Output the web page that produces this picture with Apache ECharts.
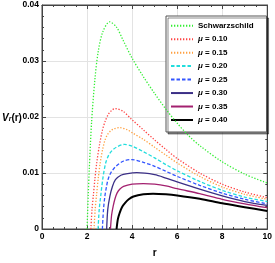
<!DOCTYPE html>
<html><head><meta charset="utf-8">
<script src="https://cdn.jsdelivr.net/npm/echarts@6/dist/echarts.min.js"></script>
<style>html,body{margin:0;padding:0;background:#fff}#c{width:275px;height:263px}</style>
</head><body><div id="c"></div>
<script>
const seriesNames = ['Schwarzschild','μ = 0.10','μ = 0.15','μ = 0.20','μ = 0.25','μ = 0.30','μ = 0.35','μ = 0.40'];
const xTicks = [0,2,4,6,8,10];
const yTicks = [0,0.01,0.02,0.03,0.04];

const rS  = [2.0,2.05,2.1,2.2,2.35,2.5,2.7,3.0,3.3,3.6,4.0,4.5,5.0,5.5,6.0,6.5,7.0,8.0,9.0,10.0];
const vS  = [0,0.0058,0.0108,0.0190,0.0268,0.0318,0.0352,0.0370,0.0361,0.0337,0.0305,0.0272,0.0242,0.0214,0.0189,0.0167,0.0149,0.0120,0.0098,0.0082];
const r10 = [2.17,2.22,2.28,2.35,2.43,2.55,2.68,2.8,2.95,3.1,3.25,3.6,4.0,4.5,5.0,5.5,6.0,7.0,8.0,9.0,10.0];
const v10 = [0,0.0035,0.0060,0.0090,0.0118,0.0150,0.0176,0.0192,0.0205,0.0212,0.0215,0.0210,0.0195,0.0177,0.0159,0.0142,0.0126,0.0100,0.0080,0.0066,0.0056];
const r15 = [2.31,2.36,2.42,2.5,2.58,2.68,2.79,2.9,3.04,3.2,3.45,3.8,4.0,4.5,5.0,5.5,6.0,7.0,8.0,9.0,10.0];
const v15 = [0,0.0035,0.0060,0.0092,0.0117,0.0140,0.0158,0.0168,0.0175,0.0179,0.0181,0.0177,0.0172,0.0160,0.0146,0.0132,0.0118,0.0094,0.0075,0.0062,0.0053];
const r20 = [2.49,2.54,2.61,2.7,2.82,2.95,3.11,3.3,3.65,4.0,4.5,5.0,5.5,6.0,7.0,8.0,9.0,10.0];
const v20 = [0,0.0035,0.0060,0.0090,0.0117,0.0131,0.0140,0.0146,0.0151,0.0148,0.0138,0.0127,0.0115,0.0104,0.0085,0.0069,0.0057,0.0049];
const r25 = [2.68,2.73,2.79,2.86,2.93,3.05,3.26,3.6,3.99,4.5,5.0,5.5,6.0,7.0,8.0,9.0,10.0];
const v25 = [0,0.0035,0.0058,0.0075,0.0088,0.0100,0.0111,0.0121,0.0124,0.0119,0.0112,0.0103,0.0094,0.0078,0.0064,0.0053,0.0045];
const r30 = [2.87,2.92,3.01,3.12,3.26,3.5,3.8,4.21,5.0,5.5,6.0,7.0,8.0,9.0,10.0];
const v30 = [0,0.0035,0.0058,0.0075,0.0088,0.0096,0.0099,0.01005,0.0097,0.0091,0.0084,0.0071,0.0059,0.0049,0.0042];
const r35 = [3.04,3.09,3.16,3.24,3.33,3.45,3.62,4.0,4.5,5.0,5.5,6.0,7.0,8.0,9.0,10.0];
const v35 = [0,0.0025,0.0041,0.0054,0.0064,0.0071,0.0076,0.0080,0.0081,0.0080,0.0077,0.0072,0.0063,0.0053,0.0045,0.0038];
const r40 = [3.31,3.37,3.45,3.55,3.7,3.85,4.06,4.5,4.93,5.5,6.0,7.0,8.0,9.0,10.0];
const v40 = [0,0.0018,0.0029,0.0039,0.0047,0.0053,0.0058,0.0062,0.0063,0.0062,0.0060,0.0054,0.0046,0.0039,0.0032];

const rs = [rS,r10,r15,r20,r25,r30,r35,r40];
const vs = [vS,v10,v15,v20,v25,v30,v35,v40];
const colors = ['#33ee33','#ff4444','#ffa040','#22dddd','#3355ff','#3b2f86','#a3206f','#000000'];
const types = [[1.3,1.7],[1.3,1.7],[1.3,1.7],[3.5,2],[3.5,2],'solid','solid','solid'];
const widths = [1.3,1.3,1.3,1.3,1.3,1.3,1.3,2];

const FF = 'Liberation Sans';
const chart = echarts.init(document.getElementById('c'));
const lblStyle = {fontFamily:FF, fontWeight:'bold', fontSize:8.5, color:'#000'};
function mkX(pos, show){
  return {type:'value', position:pos, min:0, max:10, interval:2,
    axisLine:{show:true, onZero:false, lineStyle:{color:'#444', width:1}},
    axisTick:{show:true, inside:true, length:4, lineStyle:{color:'#444'}},
    minorTick:{show:true, splitNumber:4, length:2, lineStyle:{color:'#444'}},
    splitLine:{show:show, lineStyle:{color:'#e3e3e3', width:1}},
    axisLabel:Object.assign({show:show, margin:3}, lblStyle)};
}
function mkY(pos, show){
  return {type:'value', position:pos, min:0, max:0.04, interval:0.01,
    axisLine:{show:true, onZero:false, lineStyle:{color:'#444', width:1}},
    axisTick:{show:true, inside:true, length:4, lineStyle:{color:'#444'}},
    minorTick:{show:true, splitNumber:5, length:2, lineStyle:{color:'#444'}},
    splitLine:{show:show, lineStyle:{color:'#e3e3e3', width:1}},
    axisLabel:Object.assign({show:show, margin:3, formatter:v => v===0 ? '0' : v.toFixed(2)}, lblStyle)};
}
const xa = mkX('bottom', true);
xa.name = 'r'; xa.nameLocation = 'middle'; xa.nameGap = 19;
xa.nameTextStyle = {fontFamily:FF, fontWeight:'bold', fontSize:10, color:'#000'};

chart.setOption({
  animation:false,
  grid:{left:42, right:4, top:5, bottom:30, containLabel:false, show:true, borderColor:'#444', borderWidth:1, backgroundColor:'transparent'},
  xAxis:[xa, mkX('top', false)],
  yAxis:[mkY('left', true), mkY('right', false)],
  legend:{
    show:true, orient:'vertical', left:166, top:16,
    padding:[5.7,13,8,4], itemWidth:22, itemHeight:8, itemGap:5.47, itemTextGap:5,
    backgroundColor:'#fff', borderColor:'#555', borderWidth:1,
    shadowColor:'rgba(0,0,0,0.45)', shadowOffsetX:2, shadowOffsetY:2, shadowBlur:0,
    itemStyle:{opacity:0},
    data:seriesNames,
    formatter: function(n){ return n === 'Schwarzschild' ? '{b|Schwarzschild}' : '{i|μ}{b|' + n.slice(1) + '}'; },
    textStyle:{fontFamily:FF, fontWeight:'bold', fontSize:8, color:'#000', lineHeight:8, rich:{
      b:{fontFamily:FF, fontWeight:'bold', fontSize:8, color:'#000', lineHeight:8},
      i:{fontFamily:FF, fontWeight:'bold', fontStyle:'italic', fontSize:8, color:'#000', lineHeight:8}
    }}
  },
  graphic:[{
    type:'text', left:2, top:113, z:100,
    style:{
      text:'{v|V}{s|r}{b|(r)}',
      rich:{
        v:{fontFamily:FF, fontWeight:'bold', fontStyle:'italic', fontSize:10, fill:'#000', lineHeight:13, verticalAlign:'bottom'},
        s:{fontFamily:FF, fontWeight:'bold', fontStyle:'italic', fontSize:7, fill:'#000', lineHeight:13, verticalAlign:'bottom', padding:[3,0,0,0]},
        b:{fontFamily:FF, fontWeight:'bold', fontSize:10, fill:'#000', lineHeight:13, verticalAlign:'bottom'}
      }
    }
  }],
  series: seriesNames.map((n,i) => ({
    name:n, type:'line', xAxisIndex:0, yAxisIndex:0,
    data: rs[i].map((r,j) => [r, vs[i][j]]),
    showSymbol:false, symbol:'none', smooth:0.3,
    lineStyle:{color:colors[i], width:widths[i], type:types[i]},
    itemStyle:{color:colors[i]}, z: 10-i
  }))
});
</script></body></html>
